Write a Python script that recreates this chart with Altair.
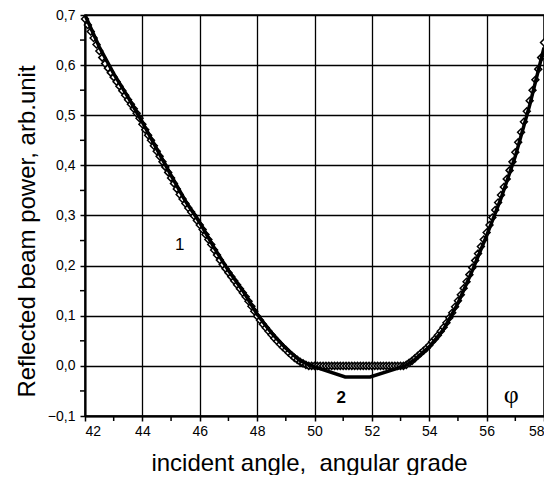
import altair as alt
import pandas as pd

# Series 1: open diamonds, one every 0.1 degree from 42.0
values1 = [
    0.692, 0.680, 0.667, 0.654, 0.641, 0.628, 0.615, 0.603, 0.594, 0.585,
    0.576, 0.567, 0.558, 0.549, 0.540, 0.531, 0.522, 0.513, 0.504, 0.494,
    0.482, 0.471, 0.460, 0.450, 0.439, 0.428, 0.418, 0.407, 0.397, 0.386,
    0.375, 0.364, 0.353, 0.342, 0.333, 0.324, 0.315, 0.307, 0.299, 0.290,
    0.281, 0.272, 0.262, 0.252, 0.242, 0.231, 0.221, 0.211, 0.202, 0.194,
    0.186, 0.178, 0.170, 0.162, 0.154, 0.146, 0.138, 0.129, 0.119, 0.109,
    0.099, 0.091, 0.083, 0.076, 0.069, 0.062, 0.055, 0.049, 0.043, 0.037,
    0.032, 0.026, 0.021, 0.016, 0.012, 0.008, 0.005, 0.002, 0.000, 0.000,
    0.000, 0.000, 0.000, 0.000, 0.000, 0.000, 0.000, 0.000, 0.000, 0.000,
    0.000, 0.000, 0.000, 0.000, 0.000, 0.000, 0.000, 0.000, 0.000, 0.000,
    0.000, 0.000, 0.000, 0.000, 0.000, 0.000, 0.000, 0.000, 0.000, 0.000,
    0.000, 0.000, 0.002, 0.006, 0.010, 0.015, 0.020, 0.025, 0.030, 0.035,
    0.041, 0.048, 0.054, 0.061, 0.069, 0.077, 0.086, 0.096, 0.106, 0.118,
    0.130, 0.142, 0.155, 0.168, 0.182, 0.196, 0.210, 0.224, 0.238, 0.252,
    0.266, 0.281, 0.296, 0.311, 0.326, 0.341, 0.357, 0.373, 0.390, 0.407,
    0.426, 0.446, 0.466, 0.487, 0.508, 0.529, 0.550, 0.571, 0.592, 0.615,
    0.645,
]
angles1 = [round(42 + 0.1 * i, 1) for i in range(len(values1))]

# Series 2: solid line
angles2 = [42.0, 42.5, 43.0, 43.5, 44.0, 44.5, 45.0, 45.5, 46.0, 46.5, 47.0,
           47.5, 48.0, 48.5, 49.0, 49.5, 49.9, 51.07, 51.94, 53.15, 53.5,
           54.0, 54.5, 55.0, 55.5, 56.0, 56.5, 57.0, 57.5, 58.0]
values2 = [0.700, 0.636, 0.583, 0.536, 0.486, 0.433, 0.380, 0.329, 0.286,
           0.236, 0.190, 0.150, 0.103, 0.066, 0.035, 0.010, 0.000, -0.022,
           -0.022, 0.000, 0.013, 0.038, 0.073, 0.125, 0.190, 0.260, 0.334,
           0.418, 0.520, 0.635]

x_ticks = [42, 44, 46, 48, 50, 52, 54, 56, 58]
x_minor = [43, 45, 47, 49, 51, 53, 55, 57]
y_ticks = [-0.1, 0.0, 0.1, 0.2, 0.3, 0.4, 0.5, 0.6, 0.7]
y_minor = [-0.05, 0.05, 0.15, 0.25, 0.35, 0.45, 0.55, 0.65]

note_text = ["1", "2", "φ"]
note_x = [45.3, 50.93, 56.86]
note_y = [0.241, -0.064, -0.058]

FONT = "Liberation Sans"
W, H = 459, 401

xs = alt.Scale(domain=[42, 58], nice=False, zero=False)
ys = alt.Scale(domain=[-0.1, 0.7], nice=False, zero=False)

XAX = alt.Axis(values=x_ticks, format="d",
               title="incident angle,\u00a0 angular grade",
               titleX=224, titleY=54, titleBaseline="alphabetic",
               labelPadding=3)
YAX = alt.Axis(values=y_ticks, format=".1f",
               title="Reflected beam power, arb.unit",
               labelExpr="replace(datum.label, '.', ',')",
               titleX=-51, titleY=216, titleBaseline="alphabetic",
               labelPadding=5)

def X(f):
    return alt.X(f, type="quantitative", scale=xs, axis=XAX)

def Y(f):
    return alt.Y(f, type="quantitative", scale=ys, axis=YAX)

df1 = pd.DataFrame({"angle": angles1, "power": values1})
df2 = pd.DataFrame({"angle": angles2, "power": values2})

pts1 = alt.Chart(df1).mark_point(
    shape="diamond", filled=False, fill="white", fillOpacity=1,
    stroke="black", strokeWidth=1.5, size=48, opacity=1,
).encode(x=X("angle"), y=Y("power"))

line2 = alt.Chart(df2).mark_line(color="black", strokeWidth=3.5).encode(
    x=X("angle"), y=Y("power"))

xminor = alt.Chart(pd.DataFrame({"angle": x_minor})).mark_rule(
    color="black", strokeWidth=1.5
).encode(x=X("angle"), y=alt.value(H), y2=alt.value(H + 5))

yminor = alt.Chart(pd.DataFrame({"power": y_minor})).mark_rule(
    color="black", strokeWidth=1.5
).encode(y=Y("power"), x=alt.value(-5), x2=alt.value(0))

notes = pd.DataFrame({"angle": note_x, "power": note_y, "t": note_text})

def note(i, **kw):
    return alt.Chart(notes.iloc[[i]]).mark_text(
        align="center", baseline="middle", color="black", **kw
    ).encode(x=X("angle"), y=Y("power"), text="t:N")

t1 = note(0, font=FONT, fontSize=17)
t2 = note(1, font=FONT, fontSize=17, fontWeight="bold")
t3 = note(2, font="Liberation Serif", fontSize=26)

chart = alt.layer(pts1, line2, xminor, yminor, t1, t2, t3).properties(
    width=W, height=H,
    padding={"left": 77, "top": 7, "right": 0, "bottom": 59},
    autosize=alt.AutoSizeParams(type="none"),
).configure_view(
    stroke="black", strokeWidth=1.5
).configure_axis(
    labelFont=FONT, labelFontSize=14, labelColor="black",
    tickSize=5, tickWidth=1.5, tickColor="black",
    domainColor="black", domainWidth=2,
    grid=True, gridColor="black", gridWidth=1.3, gridOpacity=1,
    titleFont=FONT, titleFontSize=24, titleFontWeight="normal", titleColor="black",
)

chart.save("out.html", embed_options={"renderer": "svg", "actions": False})
